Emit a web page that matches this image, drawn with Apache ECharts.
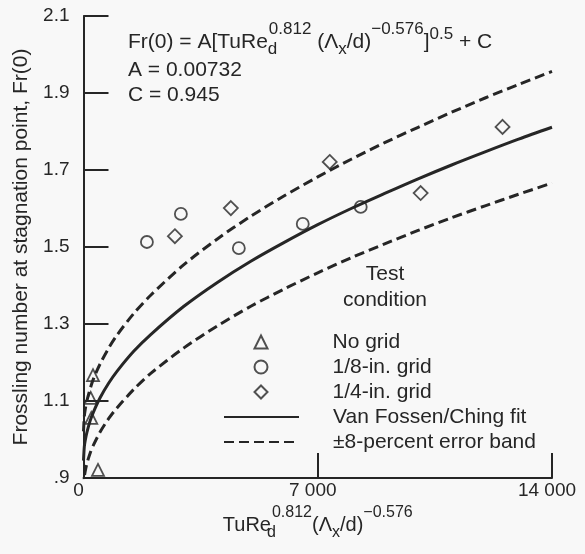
<!DOCTYPE html>
<html>
<head>
<meta charset="utf-8">
<script src="https://cdn.jsdelivr.net/npm/echarts@6/dist/echarts.min.js"></script>
<style>
html,body{margin:0;padding:0;background:#f8f8f8;}
#chart{width:585px;height:554px;}
</style>
</head>
<body>
<div id="chart"></div>
<script>
// ---- data ----
var xTicks = [0, 7000, 14000];
var xTickLabels = ['0', '7 000', '14 000'];
var yTicks = [0.9, 1.1, 1.3, 1.5, 1.7, 1.9, 2.1];
var yTickLabels = ['.9', '1.1', '1.3', '1.5', '1.7', '1.9', '2.1'];

var noGridX = [284, 215, 233, 433];
var noGridY = [1.167, 1.108, 1.056, 0.921];

var eighthGridX = [1895, 2910, 4642, 6552, 8284];
var eighthGridY = [1.513, 1.586, 1.497, 1.560, 1.604];

var quarterGridX = [2731, 4403, 7358, 10075, 12522];
var quarterGridY = [1.528, 1.601, 1.721, 1.640, 1.812];

var curveX = [0, 25, 50, 100, 200, 300, 500, 750, 1000, 1500, 2000, 3000, 4000, 5000, 6000, 7000, 8000, 9000, 10000, 11000, 12000, 13000, 14000];
var fitY = [0.945, 0.982, 0.997, 1.018, 1.049, 1.072, 1.109, 1.146, 1.177, 1.229, 1.272, 1.346, 1.408, 1.463, 1.512, 1.558, 1.600, 1.639, 1.677, 1.713, 1.747, 1.780, 1.811];
var upperY = [1.021, 1.060, 1.077, 1.100, 1.132, 1.158, 1.197, 1.237, 1.271, 1.327, 1.374, 1.454, 1.521, 1.580, 1.633, 1.682, 1.728, 1.771, 1.811, 1.850, 1.887, 1.922, 1.956];
var lowerY = [0.869, 0.903, 0.917, 0.937, 0.965, 0.986, 1.020, 1.054, 1.082, 1.130, 1.171, 1.238, 1.295, 1.346, 1.391, 1.433, 1.472, 1.508, 1.543, 1.576, 1.607, 1.637, 1.666];

var markerNames = ['No grid', '1/8-in. grid', '1/4-in. grid'];
var lineNames = ['Van Fossen/Ching fit', '±8-percent error band'];

function zip(a, b) { return a.map(function (v, i) { return [v, b[i]]; }); }

var ink = '#262626';
var fontFamily = 'Liberation Sans, Arial, Helvetica, sans-serif';
var mainSize = 21;

var chart = echarts.init(document.getElementById('chart'), null, {renderer: 'canvas'});

var markerStyle = {color: 'transparent', borderColor: ink, borderWidth: 1.8};
var lineItemStyle = {color: 'transparent', borderWidth: 0};

function richSet(size, supSize, subPad, supPad) {
  return {
    m: {fontSize: size, fontFamily: fontFamily, color: ink, fill: ink},
    sd: {fontSize: supSize, fontFamily: fontFamily, color: ink, fill: ink, padding: [subPad, 0, 0, 0], width: 1},
    sub: {fontSize: supSize, fontFamily: fontFamily, color: ink, fill: ink, padding: [subPad, 0, 0, 0]},
    sup: {fontSize: supSize, fontFamily: fontFamily, color: ink, fill: ink, padding: [0, 0, supPad, 0]},
    sup2: {fontSize: supSize, fontFamily: fontFamily, color: ink, fill: ink, padding: [0, 0, Math.round(supPad * 0.6), 0]}
  };
}

var option = {
  backgroundColor: '#f8f8f8',
  animation: false,
  textStyle: {fontFamily: fontFamily, color: ink},
  grid: {left: 83.5, right: 33, top: 16, bottom: 76, containLabel: false},
  xAxis: {
    type: 'value', min: 0, max: 14000, interval: 7000,
    axisLine: {show: true, lineStyle: {color: ink, width: 2}},
    axisTick: {show: true, inside: true, length: 25, lineStyle: {color: ink, width: 2}},
    splitLine: {show: false},
    axisLabel: {
      margin: 3, fontSize: 19, color: ink, fontFamily: fontFamily, padding: [0, 10, 0, 0],
      formatter: function (v) { var i = xTicks.indexOf(v); return i >= 0 ? xTickLabels[i] : ''; }
    },
    name: '{m|TuRe}{sd|d}{sup|0.812}{m|(Λ}{sub|x}{m|/d)}{sup|−0.576}',
    nameLocation: 'middle', nameGap: 16,
    nameTextStyle: {fontFamily: fontFamily, color: ink, rich: richSet(20, 16, 14, 26)}
  },
  yAxis: {
    type: 'value', min: 0.9, max: 2.1,
    axisLine: {show: true, lineStyle: {color: ink, width: 2}},
    axisTick: {show: true, inside: true, length: 25, customValues: yTicks, lineStyle: {color: ink, width: 2}},
    splitLine: {show: false},
    axisLabel: {
      margin: 14, fontSize: 19, color: ink, fontFamily: fontFamily, customValues: yTicks,
      formatter: function (v) {
        for (var i = 0; i < yTicks.length; i++) { if (Math.abs(yTicks[i] - v) < 1e-6) return yTickLabels[i]; }
        return '';
      }
    },
    name: 'Frossling number at stagnation point, Fr(0)',
    nameLocation: 'middle', nameGap: 50,
    nameTextStyle: {fontSize: mainSize, color: ink, fontFamily: fontFamily}
  },
  legend: [
    {
      orient: 'vertical', left: 253.5, top: 331.5, padding: 0,
      itemWidth: 13, itemHeight: 13, itemGap: 4,
      data: markerNames,
      textStyle: {fontSize: mainSize, lineHeight: 21, color: ink, fontFamily: fontFamily, padding: [0, 0, 0, 60]}
    },
    {
      orient: 'vertical', left: 223, top: 406.5, padding: 0,
      itemWidth: 75, itemHeight: 13, itemGap: 4,
      data: lineNames,
      textStyle: {fontSize: mainSize, lineHeight: 21, color: ink, fontFamily: fontFamily, padding: [0, 0, 0, 29]}
    }
  ],
  graphic: [
    {
      type: 'text', x: 128, y: 42,
      style: {
        text: '{m|Fr(0) = A[TuRe}{sd|d}{sup|0.812}{m| (Λ}{sub|x}{m|/d)}{sup|−0.576}{m|]}{sup2|0.5}{m| + C}',
        verticalAlign: 'middle', align: 'left',
        rich: richSet(mainSize, 17, 14, 26)
      }
    },
    {type: 'text', x: 128, y: 70, style: {text: 'A = 0.00732', fontSize: mainSize, fontFamily: fontFamily, fill: ink, verticalAlign: 'middle'}},
    {type: 'text', x: 128, y: 95, style: {text: 'C = 0.945', fontSize: mainSize, fontFamily: fontFamily, fill: ink, verticalAlign: 'middle'}},
    {type: 'text', x: 385, y: 287, style: {text: 'Test\ncondition', fontSize: mainSize, lineHeight: 26, fontFamily: fontFamily, fill: ink, align: 'center', verticalAlign: 'middle'}}
  ],
  series: [
    {name: markerNames[0], type: 'scatter', symbol: 'triangle', symbolSize: 12, itemStyle: markerStyle, data: zip(noGridX, noGridY), z: 5},
    {name: markerNames[1], type: 'scatter', symbol: 'circle', symbolSize: 12, itemStyle: markerStyle, data: zip(eighthGridX, eighthGridY), z: 5},
    {name: markerNames[2], type: 'scatter', symbol: 'diamond', symbolSize: 14, itemStyle: markerStyle, data: zip(quarterGridX, quarterGridY), z: 5},
    {name: lineNames[0], type: 'line', smooth: 0.3, symbol: 'none', clip: true, lineStyle: {color: ink, width: 3}, itemStyle: lineItemStyle, data: zip(curveX, fitY)},
    {name: lineNames[1], type: 'line', smooth: 0.3, symbol: 'none', clip: true, lineStyle: {color: ink, width: 3, type: [10, 5]}, itemStyle: lineItemStyle, data: zip(curveX, upperY)},
    {name: lineNames[1], type: 'line', smooth: 0.3, symbol: 'none', clip: true, lineStyle: {color: ink, width: 3, type: [10, 5]}, itemStyle: lineItemStyle, data: zip(curveX, lowerY)}
  ]
};
chart.setOption(option);
</script>
</body>
</html>
